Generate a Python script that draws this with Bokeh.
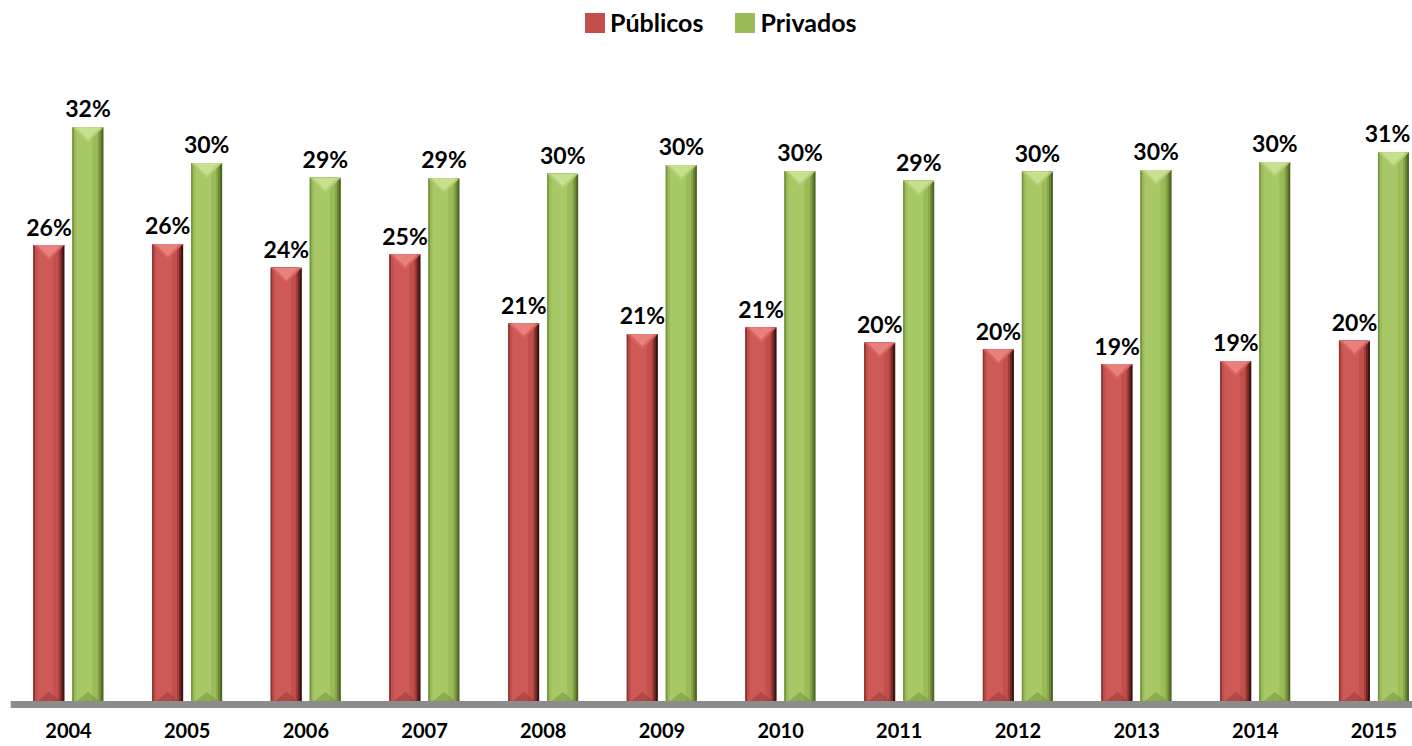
import numpy as np
from bokeh.plotting import figure
from bokeh.models import Range1d, FixedTicker, Legend, LegendItem
from bokeh.core.properties import value
from bokeh.embed import file_html
from bokeh.resources import INLINE

# ---- data ----
years = ["2004", "2005", "2006", "2007", "2008", "2009",
         "2010", "2011", "2012", "2013", "2014", "2015"]
publicos = [25.67, 25.73, 24.40, 25.15, 21.30, 20.70, 21.07, 20.21, 19.84, 19.02, 19.19, 20.32]
privados = [32.25, 30.25, 29.43, 29.40, 29.65, 30.14, 29.80, 29.26, 29.77, 29.86, 30.31, 30.85]
series_names = ["Públicos", "Privados"]

# ---- layout constants ----
W, H = 1412, 746
PX_X = 118.68     # pixels per category
PX_Y = 17.9       # pixels per percentage point
BORDER_L = 10
BASE_PX = 42      # distance of the zero line from the bottom edge
frame_w = W - BORDER_L
frame_h = H
x0 = -(58.0 / PX_X)
x1 = x0 + frame_w / PX_X
FONT = value("Lato")

p = figure(width=W, height=H, output_backend="svg", toolbar_location=None,
           x_range=Range1d(x0, x1),
           y_range=Range1d(-BASE_PX / PX_Y, (frame_h - BASE_PX) / PX_Y),
           min_border_left=BORDER_L, min_border_right=0,
           min_border_top=0, min_border_bottom=0)
p.outline_line_color = None
p.background_fill_color = "white"
p.border_fill_color = "white"
p.xgrid.visible = False
p.ygrid.visible = False
p.yaxis.visible = False

ax = p.xaxis[0]
ax.fixed_location = 0
ax.ticker = FixedTicker(ticks=list(range(len(years))))
ax.major_label_overrides = {i: y for i, y in enumerate(years)}
ax.axis_line_color = "#8c8c8c"
ax.axis_line_width = 7
ax.major_tick_line_color = None
ax.minor_tick_line_color = None
ax.major_tick_out = 0
ax.major_tick_in = 0
ax.minor_tick_out = 0
ax.major_label_standoff = 18
ax.major_label_text_font = "Lato"
ax.major_label_text_font_style = "bold"
ax.major_label_text_font_size = "20px"
ax.major_label_text_color = "black"

idx = np.arange(len(years))
BAR_PX = 31.0
half = BAR_PX / 2 / PX_X

def draw_series(vals, off_px, pal, label_off):
    vals = np.array(vals)
    cx = idx + off_px / PX_X

    def strip(a, b, color):
        x = cx - half + ((a + b) / 2) / PX_X
        return p.vbar(x=x, top=vals, bottom=0, width=(b - a) / PX_X,
                      fill_color=color, line_color=None)

    strip(0, 31, pal["dark"])
    strip(0, 29, pal["dark2"])
    strip(0, 27, pal["mid"])
    face = strip(0, 25, pal["face"])
    strip(4, 20, pal["hi"])
    strip(0, 1.5, pal["edge"])

    dh = (BAR_PX / 2) / PX_Y
    # bottom bevel (upward)
    p.patches(xs=[[c - half, c + half, c] for c in cx],
              ys=[[0, 0, dh * 0.8] for _ in vals],
              fill_color=pal["bottom"], fill_alpha=0.45, line_color=None)
    # top bevel (downward chevron)
    p.patches(xs=[[c - half, c + half, c] for c in cx],
              ys=[[v, v, v - dh] for v in vals],
              fill_color=pal["top"], line_color=None)
    p.patches(xs=[[c - half * 0.8, c + half * 0.8, c] for c in cx],
              ys=[[v, v, v - dh * 0.8] for v in vals],
              fill_color=pal["top2"], line_color=None)

    # keep labels inside the visible area
    lx = np.minimum(cx, x1 - 25.0 / PX_X)
    p.text(x=lx, y=vals, text=[f"{round(v)}%" for v in vals],
           text_align="center", text_baseline="alphabetic", y_offset=label_off,
           text_font=FONT, text_font_style="bold", text_font_size="23px",
           text_color="black")
    return face

red = dict(dark="#3e1211", dark2="#6e2725", mid="#9e3f3c", face="#c24f4c",
           hi="#cd5a57", edge="#8c3533", top="#d9625e", top2="#e8817d", bottom="#8e3431")
green = dict(dark="#4f6624", dark2="#6c8736", mid="#88a74b", face="#9bbb59",
             hi="#a8c867", edge="#769340", top="#b2cf72", top2="#c6e08f", bottom="#6b8a35")

r_pub = draw_series(publicos, -19.5, red, -18.5)
r_priv = draw_series(privados, 19.5, green, -19)

legend = Legend(items=[LegendItem(label=series_names[0], renderers=[r_pub]),
                       LegendItem(label=series_names[1], renderers=[r_priv])],
                orientation="horizontal", location=(572, frame_h - 37),
                border_line_color=None, background_fill_alpha=0,
                margin=0, padding=0, spacing=29,
                glyph_width=25, glyph_height=25, label_standoff=3,
                label_text_font="Lato", label_text_font_style="bold",
                label_text_font_size="25px", label_text_color="black")
p.add_layout(legend)

open("out.html", "w").write(file_html(p, INLINE))
